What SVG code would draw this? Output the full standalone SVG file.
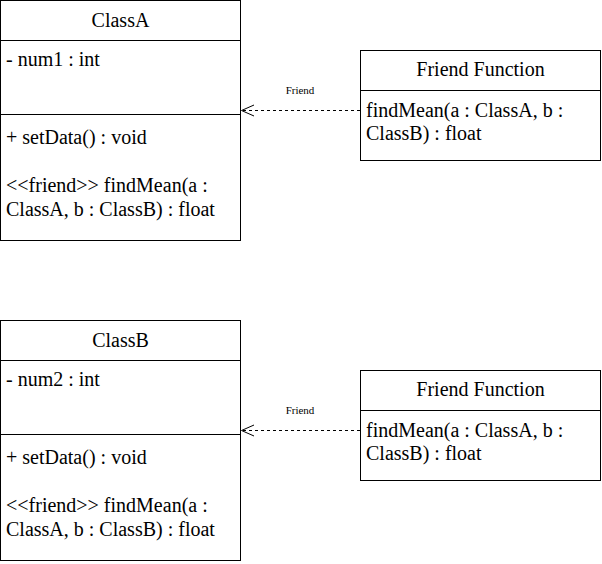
<svg xmlns="http://www.w3.org/2000/svg" width="602" height="564" viewBox="0 0 602 564">
<style>
  .box { fill: #ffffff; stroke: #000000; stroke-width: 1; }
  .div { stroke: #000000; stroke-width: 1; fill: none; }
  .t { font-family: "Liberation Serif", "Times New Roman", serif; font-size: 20px; fill: #000000; }
  .h { text-anchor: middle; }
  .lbl { font-family: "Liberation Serif", "Times New Roman", serif; font-size: 11px; fill: #000000; text-anchor: middle; }
  .dep { stroke: #000000; stroke-width: 1; fill: none; stroke-dasharray: 3 3; }
  .head { stroke: #000000; stroke-width: 1; fill: none; }
</style>
<rect width="602" height="564" fill="#ffffff"/>

<g id="classA">
  <rect class="box" x="0.5" y="0.5" width="240" height="240"/>
  <line class="div" x1="0.5" y1="40.5" x2="240.5" y2="40.5"/>
  <line class="div" x1="0.5" y1="114.5" x2="240.5" y2="114.5"/>
  <text class="t h" x="120.5" y="27">ClassA</text>
  <text class="t" x="6" y="66">- num1 : int</text>
  <text class="t" x="6" y="144">+ setData() : void</text>
  <text class="t" x="6" y="192">&lt;&lt;friend&gt;&gt; findMean(a :</text>
  <text class="t" x="6" y="216">ClassA, b : ClassB) : float</text>
</g>

<g id="friendA">
  <rect class="box" x="360.5" y="50.5" width="240" height="110"/>
  <line class="div" x1="360.5" y1="90.5" x2="600.5" y2="90.5"/>
  <text class="t h" x="480.5" y="76">Friend Function</text>
  <text class="t" x="366" y="117">findMean(a : ClassA, b :</text>
  <text class="t" x="366" y="140">ClassB) : float</text>
</g>

<g id="classB">
  <rect class="box" x="0.5" y="320.5" width="240" height="240"/>
  <line class="div" x1="0.5" y1="360.5" x2="240.5" y2="360.5"/>
  <line class="div" x1="0.5" y1="434.5" x2="240.5" y2="434.5"/>
  <text class="t h" x="120.5" y="347">ClassB</text>
  <text class="t" x="6" y="386">- num2 : int</text>
  <text class="t" x="6" y="464">+ setData() : void</text>
  <text class="t" x="6" y="512">&lt;&lt;friend&gt;&gt; findMean(a :</text>
  <text class="t" x="6" y="536">ClassA, b : ClassB) : float</text>
</g>

<g id="friendB">
  <rect class="box" x="360.5" y="370.5" width="240" height="110"/>
  <line class="div" x1="360.5" y1="410.5" x2="600.5" y2="410.5"/>
  <text class="t h" x="480.5" y="396">Friend Function</text>
  <text class="t" x="366" y="437">findMean(a : ClassA, b :</text>
  <text class="t" x="366" y="460">ClassB) : float</text>
</g>

<g id="connectors">
  <line class="dep" x1="360" y1="110.5" x2="243" y2="110.5"/>
  <polyline class="head" points="254,105 241.5,110.5 254,116"/>
  <text class="lbl" x="300" y="94">Friend</text>
  <line class="dep" x1="360" y1="430.5" x2="243" y2="430.5"/>
  <polyline class="head" points="254,425 241.5,430.5 254,436"/>
  <text class="lbl" x="300" y="414">Friend</text>
</g>
</svg>
